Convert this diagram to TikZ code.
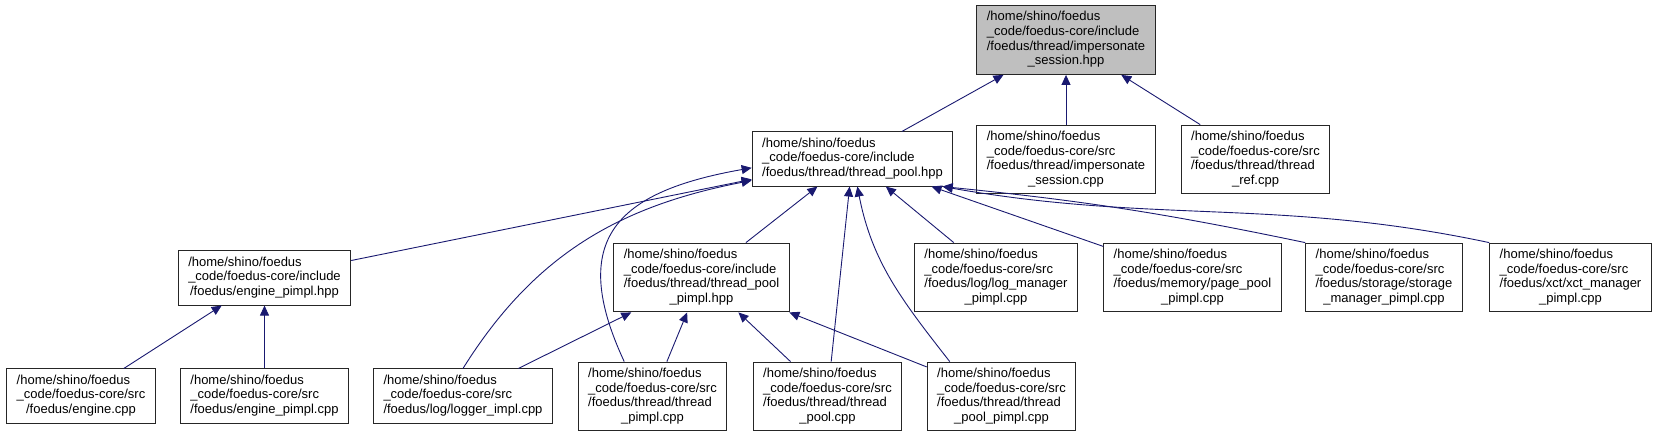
\documentclass[tikz,border=0pt]{standalone}
\usepackage{fontspec}
\setmainfont{Liberation Sans}
\usetikzlibrary{arrows.meta}
\definecolor{depblue}{RGB}{25,25,112}
\definecolor{curgray}{RGB}{191,191,191}
% file label: left lines, last line centred
\newcommand{\fpath}[2]{\begin{tabular}{@{}l@{}}#1\\\multicolumn{1}{@{}c@{}}{#2}\end{tabular}}

\begin{document}
\begin{tikzpicture}[x=1pt,y=1pt,
  file/.style={draw=black!85,line width=1pt,fill=white,inner xsep=10pt,inner ysep=5pt,
    font=\fontsize{13}{14.7}\selectfont},
  current/.style={file,fill=curgray},
  dep/.style={-{Triangle[length=10pt,width=9pt]},draw=depblue,line width=0.9pt},
]
\useasboundingbox (0,0) rectangle (1659,-437);
% header and its includers
\node[current] (hdr) at (1066,-40) {\fpath{/home/shino/foedus\\\_code/foedus-core/include\\/foedus/thread/impersonate}{\_session.hpp}};
\node[file] (tpool) at (852.5,-159) {\fpath{/home/shino/foedus\\\_code/foedus-core/include}{/foedus/thread/thread\_pool.hpp}};
\node[file] (isc) at (1066,-159.5) {\fpath{/home/shino/foedus\\\_code/foedus-core/src\\/foedus/thread/impersonate}{\_session.cpp}};
\node[file] (tref) at (1255.5,-159.5) {\fpath{/home/shino/foedus\\\_code/foedus-core/src\\/foedus/thread/thread}{\_ref.cpp}};
% third row
\node[file] (epimplh) at (264.5,-278) {\fpath{/home/shino/foedus\\\_code/foedus-core/include}{/foedus/engine\_pimpl.hpp}};
\node[file] (tppimplh) at (701.5,-277.5) {\fpath{/home/shino/foedus\\\_code/foedus-core/include\\/foedus/thread/thread\_pool}{\_pimpl.hpp}};
\node[file] (logmgr) at (996,-277.5) {\fpath{/home/shino/foedus\\\_code/foedus-core/src\\/foedus/log/log\_manager}{\_pimpl.cpp}};
\node[file] (pagepool) at (1192.5,-277.5) {\fpath{/home/shino/foedus\\\_code/foedus-core/src\\/foedus/memory/page\_pool}{\_pimpl.cpp}};
\node[file] (storage) at (1384,-277.5) {\fpath{/home/shino/foedus\\\_code/foedus-core/src\\/foedus/storage/storage}{\_manager\_pimpl.cpp}};
\node[file] (xct) at (1570.5,-277.5) {\fpath{/home/shino/foedus\\\_code/foedus-core/src\\/foedus/xct/xct\_manager}{\_pimpl.cpp}};
% bottom row
\node[file] (engine) at (81,-396) {\fpath{/home/shino/foedus\\\_code/foedus-core/src}{/foedus/engine.cpp}};
\node[file] (epimplc) at (264.5,-396) {\fpath{/home/shino/foedus\\\_code/foedus-core/src}{/foedus/engine\_pimpl.cpp}};
\node[file] (logger) at (463,-396) {\fpath{/home/shino/foedus\\\_code/foedus-core/src}{/foedus/log/logger\_impl.cpp}};
\node[file] (tpimpl) at (652.5,-396.5) {\fpath{/home/shino/foedus\\\_code/foedus-core/src\\/foedus/thread/thread}{\_pimpl.cpp}};
\node[file] (tpoolc) at (827.5,-396.5) {\fpath{/home/shino/foedus\\\_code/foedus-core/src\\/foedus/thread/thread}{\_pool.cpp}};
\node[file] (tppimplc) at (1001.5,-396.5) {\fpath{/home/shino/foedus\\\_code/foedus-core/src\\/foedus/thread/thread}{\_pool\_pimpl.cpp}};
% include edges
\foreach \src in {tpool,isc,tref}{\draw[dep] (\src) -- (hdr);}
\foreach \src in {epimplh,tppimplh,tpoolc,logmgr,pagepool}{\draw[dep] (\src) -- (tpool);}
\foreach \src in {engine,epimplc}{\draw[dep] (\src) -- (epimplh);}
\foreach \src in {logger,tpimpl,tpoolc,tppimplc}{\draw[dep] (\src) -- (tppimplh);}
\draw[dep] (logger.north) to[out=58,in=191] (tpool.192);
\draw[dep] (tpimpl.129) to[out=115,in=190,looseness=1.5] (tpool.185);
\draw[dep] (tppimplc.146) to[out=128,in=-79] (tpool.-80);
\draw[dep] (storage.north west) to[bend right=3] (tpool.-17);
\draw[dep] (xct.north west) to[out=168,in=-10] (tpool.-17);
\end{tikzpicture}
\end{document}
